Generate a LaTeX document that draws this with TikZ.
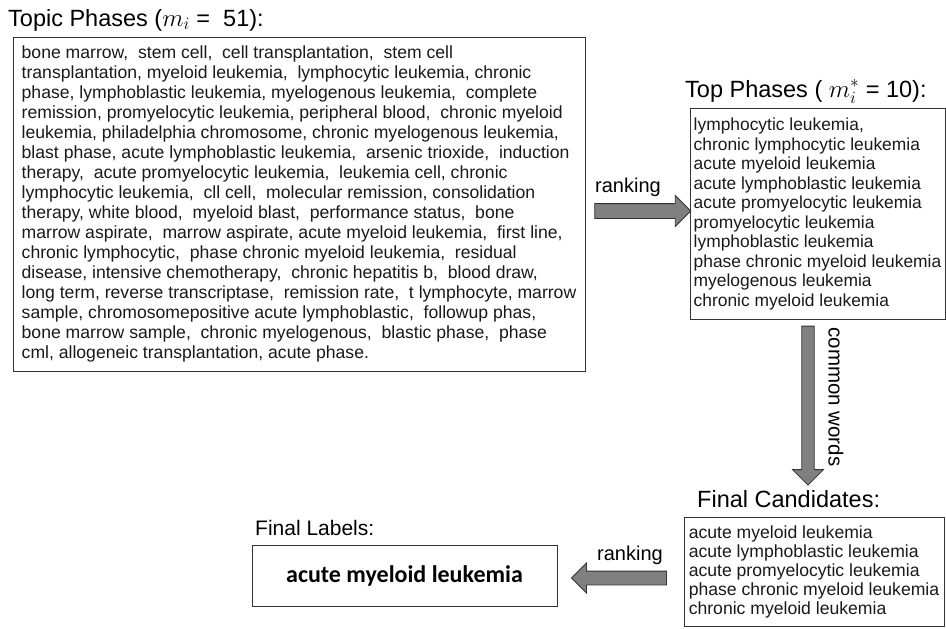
\documentclass[tikz,border=0pt]{standalone}
\usepackage{fontspec}
\setmainfont{Liberation Sans}
\newfontfamily\labelfont{Carlito}
\usetikzlibrary{shapes.arrows}

\tikzset{
  phrasebox/.style={draw=black!80, line width=1pt, align=left, text=black!90,
    font=\fontsize{17.6}{20}\selectfont, inner sep=0pt},
  heading/.style={anchor=base west, font=\fontsize{23.5}{26}\selectfont, inner sep=0pt},
  steplabel/.style={font=\fontsize{20}{24}\selectfont, inner sep=0pt},
  fatarrow/.style={single arrow, draw=black!80, fill=black!50, line width=0.8pt,
    single arrow head extend=8pt, inner xsep=0pt, inner ysep=7pt}
}

\begin{document}
\begin{tikzpicture}[x=1pt,y=-1pt]
\useasboundingbox (0,0) rectangle (946,629);

% all phrases of the topic
\node[heading] (topictitle) at (8,26) {Topic Phases ($m_i$ =\ \ 51):};
\node[phrasebox, minimum width=572pt, minimum height=334pt] (topic) at (299,204)
{bone marrow,\ \ stem cell,\ \ cell transplantation,\ \ stem cell\\
transplantation, myeloid leukemia,\ \ lymphocytic leukemia, chronic\\
phase, lymphoblastic leukemia, myelogenous leukemia,\ \ complete\\
remission, promyelocytic leukemia, peripheral blood,\ \ chronic myeloid\\
leukemia, philadelphia chromosome, chronic myelogenous leukemia,\\
blast phase, acute lymphoblastic leukemia,\ \ arsenic trioxide,\ \ induction\\
therapy,\ \ acute promyelocytic leukemia,\ \ leukemia cell, chronic\\
lymphocytic leukemia,\ \ cll cell,\ \ molecular remission, consolidation\\
therapy, white blood,\ \ myeloid blast,\ \ performance status,\ \ bone\\
marrow aspirate,\ \ marrow aspirate, acute myeloid leukemia,\ \ first line,\\
chronic lymphocytic,\ \ phase chronic myeloid leukemia,\ \ residual\\
disease, intensive chemotherapy,\ \ chronic hepatitis b,\ \ blood draw,\\
long term, reverse transcriptase,\ \ remission rate,\ \ t lymphocyte, marrow\\
sample, chromosomepositive acute lymphoblastic,\ \ followup phas,\\
bone marrow sample,\ \ chronic myelogenous,\ \ blastic phase,\ \ phase\\
cml, allogeneic transplantation, acute phase.};

% top ranked phrases
\node[heading] (toptitle) at (685,97) {Top Phases ( $m_i^*$ = 10):};
\node[phrasebox, font=\fontsize{17.4}{19.5}\selectfont, minimum width=255pt, minimum height=211pt] (top) at (817.5,214)
{lymphocytic leukemia,\\
chronic lymphocytic leukemia\\
acute myeloid leukemia\\
acute lymphoblastic leukemia\\
acute promyelocytic leukemia\\
promyelocytic leukemia\\
lymphoblastic leukemia\\
phase chronic myeloid leukemia\\
myelogenous leukemia\\
chronic myeloid leukemia};

% candidates
\node[heading] (candtitle) at (697,507) {Final Candidates:};
\node[phrasebox, font=\fontsize{17.6}{19}\selectfont, minimum width=260pt, minimum height=109pt] (cand) at (814,571.5)
{acute myeloid leukemia\\
acute lymphoblastic leukemia\\
acute promyelocytic leukemia\\
phase chronic myeloid leukemia\\
chronic myeloid leukemia};

% final label
\node[heading, font=\fontsize{21}{24}\selectfont] (labeltitle) at (255,535) {Final Labels:};
\node[phrasebox, minimum width=305pt, minimum height=61pt, text=black,
  font=\labelfont\bfseries\fontsize{24}{28}\selectfont] (final) at (404.5,575.5)
{acute myeloid leukemia};

% steps between the boxes
\node[fatarrow, minimum height=96pt, minimum width=30pt] (rank1) at (639,211) {};
\node[steplabel, anchor=base] (rank1label) at (628,192) {ranking};
\node[fatarrow, shape border rotate=270, inner xsep=5pt, inner ysep=0pt,
  minimum height=159pt, minimum width=31pt] (common) at (808,402.5) {};
\node[steplabel, rotate=-90, font=\fontsize{20.5}{24}\selectfont] (commonlabel) at (836,397) {common words};
\node[fatarrow, shape border rotate=180, minimum height=95pt, minimum width=28pt, inner ysep=6.5pt] (rank2) at (622.5,578) {};
\node[steplabel, anchor=base] (rank2label) at (630,560) {ranking};

\end{tikzpicture}
\end{document}
